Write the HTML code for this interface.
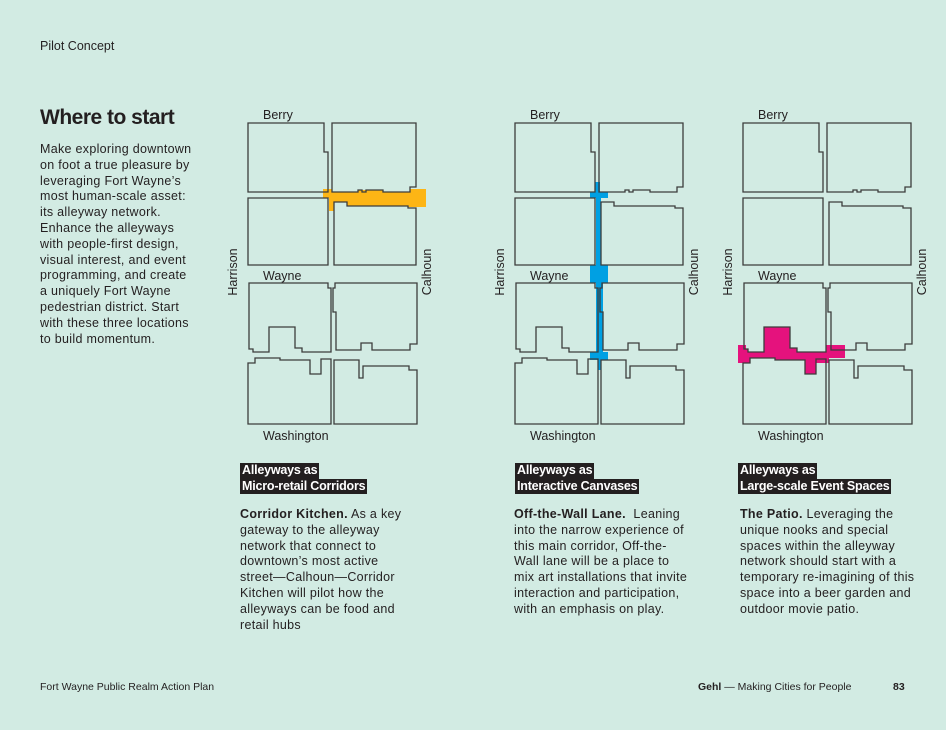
<!DOCTYPE html>
<html><head><meta charset="utf-8"><style>
body{margin:0;width:946px;height:730px;background:#d2ebe3;position:relative;overflow:hidden;font-family:"Liberation Sans",sans-serif;color:#231f20}
.t{position:absolute;white-space:nowrap}
.p{font-size:12.5px;line-height:15.8px;letter-spacing:0.3px}
.hd{position:absolute;font-size:12.5px;font-weight:bold;line-height:15.5px;color:#fff;letter-spacing:-0.2px}
.hd span{background:#231f20;padding:0 2px;display:inline-block}
svg{position:absolute;top:0;left:0}
</style></head><body>
<div class="t" style="left:40px;top:39px;font-size:12.5px">Pilot Concept</div>
<div class="t" style="left:40px;top:106px;font-size:21px;font-weight:bold;letter-spacing:-0.5px">Where to start</div>
<div class="t p" style="left:40px;top:142px">Make exploring downtown<br>on foot a true pleasure by<br>leveraging Fort Wayne’s<br>most human-scale asset:<br>its alleyway network.<br>Enhance the alleyways<br>with people-first design,<br>visual interest, and event<br>programming, and create<br>a uniquely Fort Wayne<br>pedestrian district. Start<br>with these three locations<br>to build momentum.</div>

<svg width="946" height="730">
<defs>
<g id="m" fill="none" stroke="#3c3c3c" stroke-width="1.3">
<path d="M23,23H99V52H103V92H23Z"/>
<path d="M107,23H191V87H185V92H158V90H141V92H137V90H133V92H107Z"/>
<path d="M23,98H103V165H23Z"/>
<path d="M109,102H122V106H183V108H191V165H109Z"/>
<path d="M24,183H103V188H106V252H77V248H70V227H44V252H28V249H24Z"/>
<path d="M110,183H192V244H185V250H147V243H136V250H111V212H108V188H110Z"/>
<path d="M23,263H30V258H55V260H85V274H96V259H106V324H23Z"/>
<path d="M109,260H134V278H138V266H184V270H192V324H109Z"/>
</g>
<g id="l" font-family="Liberation Sans,sans-serif" font-size="12.5" fill="#231f20">
<text x="38" y="19">Berry</text>
<text x="38" y="180">Wayne</text>
<text x="38" y="340">Washington</text>
<text transform="translate(12,172) rotate(-90)" text-anchor="middle">Harrison</text>
<text transform="translate(206,172) rotate(-90)" text-anchor="middle">Calhoun</text>
</g>
</defs>
<g transform="translate(225,100)">
<path fill="#fdb515" d="M98,89H107V92H133V90H158V92H185V89H201V107H183V106H122V102H109V111H104V98H98Z"/>
<use href="#m"/><use href="#l"/>
</g>
<g transform="translate(492,100)">
<g fill="#00a0e3">
<rect x="103" y="82" width="5" height="10"/>
<rect x="98" y="92" width="18" height="6"/>
<rect x="104" y="98" width="5" height="67"/>
<rect x="98" y="165" width="18" height="18"/>
<rect x="104" y="183" width="7" height="69"/>
<rect x="98" y="252" width="18" height="8"/>
<rect x="106" y="260" width="3" height="10"/>
</g>
<use href="#m"/><use href="#l"/>
</g>
<g transform="translate(720,100)">
<path fill="#e5127d" d="M18,245H26V249H28V252H44V227H70V248H77V252H106V245H125V258H109V263H96V274H85V260H55V258H30V263H18Z"/>
<use href="#m"/><use href="#l"/>
</g>
</svg>

<div class="hd" style="left:240px;top:463px"><span>Alleyways as</span><br><span>Micro-retail Corridors</span></div>
<div class="hd" style="left:515px;top:463px"><span>Alleyways as</span><br><span>Interactive Canvases</span></div>
<div class="hd" style="left:738px;top:463px"><span>Alleyways as</span><br><span>Large-scale Event Spaces</span></div>

<div class="t p" style="left:240px;top:507px"><b>Corridor Kitchen.</b> As a key<br>gateway to the alleyway<br>network that connect to<br>downtown’s most active<br>street—Calhoun—Corridor<br>Kitchen will pilot how the<br>alleyways can be food and<br>retail hubs</div>
<div class="t p" style="left:514px;top:507px"><b>Off-the-Wall Lane.</b>&nbsp; Leaning<br>into the narrow experience of<br>this main corridor, Off-the-<br>Wall lane will be a place to<br>mix art installations that invite<br>interaction and participation,<br>with an emphasis on play.</div>
<div class="t p" style="left:740px;top:507px"><b>The Patio.</b> Leveraging the<br>unique nooks and special<br>spaces within the alleyway<br>network should start with a<br>temporary re-imagining of this<br>space into a beer garden and<br>outdoor movie patio.</div>

<div class="t" style="left:40px;top:681px;font-size:10.5px">Fort Wayne Public Realm Action Plan</div>
<div class="t" style="left:698px;top:681px;font-size:10.5px"><b>Gehl</b> — Making Cities for People</div>
<div class="t" style="left:893px;top:681px;font-size:10.5px;font-weight:bold">83</div>
</body></html>
